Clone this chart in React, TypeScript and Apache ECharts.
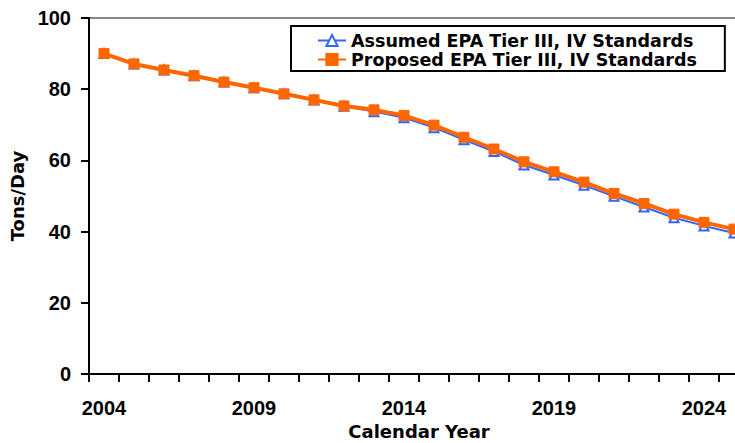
import React, { useEffect, useRef } from "react";
import * as echarts from "echarts";

const years = ["2004","2005","2006","2007","2008","2009","2010","2011","2012","2013","2014","2015","2016","2017","2018","2019","2020","2021","2022","2023","2024","2025"];
const assumed = [90.0, 87.1, 85.4, 83.8, 82.0, 80.4, 78.7, 77.0, 75.2, 73.7, 72.0, 69.2, 65.8, 62.5, 58.7, 55.9, 53.0, 49.9, 46.9, 43.9, 41.6, 39.6];
const proposed = [90.0, 87.1, 85.4, 83.8, 82.0, 80.4, 78.7, 77.0, 75.3, 74.2, 72.6, 69.9, 66.5, 63.2, 59.6, 56.8, 53.9, 50.7, 47.9, 44.9, 42.6, 40.7];
const seriesNames = ["Assumed EPA Tier III, IV Standards", "Proposed EPA Tier III, IV Standards"];

const FONT = "'Liberation Sans', Arial, sans-serif";
const WIDE = "'DejaVu Sans', sans-serif";

export default function App() {
  const ref = useRef<HTMLDivElement>(null);
  useEffect(() => {
    if (!ref.current) return;
    const chart = echarts.init(ref.current, null, { renderer: "svg" });
    chart.setOption({
      animation: false,
      backgroundColor: "#fff",
      textStyle: { fontFamily: FONT },
      grid: {
        left: 89, top: 18, width: 660, height: 356,
        containLabel: false, outerBoundsMode: "none",
        show: true, borderColor: "#888", borderWidth: 2, backgroundColor: "transparent",
      },
      legend: {
        left: 291, top: 26, orient: "vertical",
        data: seriesNames,
        backgroundColor: "#fff",
        borderColor: "#000", borderWidth: 2, borderRadius: 0,
        padding: [5, 28, 2, 26],
        itemGap: 0, itemWidth: 28, itemHeight: 14,
        textStyle: { fontSize: 17.5, fontWeight: "bold", color: "#000", fontFamily: WIDE, lineHeight: 19, padding: [0, 0, 0, 0] },
      },
      xAxis: {
        type: "category",
        data: years,
        boundaryGap: true,
        name: "Calendar Year",
        nameLocation: "middle",
        nameGap: 46,
        nameTextStyle: { fontSize: 18, fontWeight: "bold", color: "#000", fontFamily: WIDE },
        axisLine: { lineStyle: { color: "#000", width: 2 } },
        axisTick: { show: true, interval: 0, length: 8, inside: false, lineStyle: { color: "#000", width: 2 } },
        axisLabel: { interval: 4, margin: 24, fontSize: 20, fontWeight: "bold", color: "#000", fontFamily: FONT },
        splitLine: { show: false },
      },
      yAxis: {
        type: "value",
        min: 0, max: 100, interval: 20,
        name: "Tons/Day",
        nameLocation: "middle",
        nameGap: 55,
        nameTextStyle: { fontSize: 18, fontWeight: "bold", color: "#000", fontFamily: WIDE },
        axisLine: { show: true, lineStyle: { color: "#000", width: 2 } },
        axisTick: { show: true, length: 8, inside: false, lineStyle: { color: "#000", width: 2 } },
        axisLabel: { margin: 18, fontSize: 20, fontWeight: "bold", color: "#000", fontFamily: FONT },
        splitLine: { show: false },
      },
      series: [
        {
          name: seriesNames[0],
          type: "line",
          data: assumed,
          symbol: "triangle",
          symbolSize: 9,
          itemStyle: { color: "#fff", borderColor: "#3366FF", borderWidth: 2 },
          lineStyle: { color: "#3366FF", width: 2 },
          z: 2,
        },
        {
          name: seriesNames[1],
          type: "line",
          data: proposed,
          symbol: "rect",
          symbolSize: 10,
          itemStyle: { color: "#FF6600", borderColor: "#FF6600", borderWidth: 1 },
          lineStyle: { color: "#FF6600", width: 4 },
          z: 3,
        },
      ],
    });
    return () => chart.dispose();
  }, []);
  return <div ref={ref} style={{ position: "fixed", left: 0, top: 0, width: 735, height: 443 }} />;
}
